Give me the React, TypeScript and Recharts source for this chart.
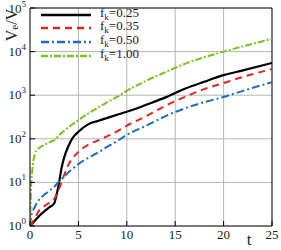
import { LineChart, Line, XAxis, YAxis, CartesianGrid, ReferenceLine } from "recharts";

const SERIF = "'Liberation Serif', 'DejaVu Serif', serif";

// t grid + values (V_e/V), one pair per curve
const tBlack = [0, 0.5, 1, 1.5, 2, 2.5, 2.75, 3, 3.25, 3.5, 4, 4.5, 5, 6, 7, 8, 9, 10, 12, 14, 16, 18, 20, 22, 25];
const vBlack = [1, 1.32, 1.74, 2.19, 2.69, 3.31, 5.25, 9.77, 20.9, 35.5, 70.8, 112, 145, 214, 257, 302, 355, 417, 603, 891, 1413, 2042, 2884, 3715, 5495];

const tRed = [0, 0.3, 0.5, 1, 1.5, 2, 2.5, 3, 3.5, 4, 4.5, 5, 6, 7, 8, 9, 10, 12, 14, 16, 18, 20, 22, 25];
const vRed = [1, 1.26, 1.48, 2.4, 2.88, 3.39, 4.17, 7.08, 14.1, 26.3, 38, 50.1, 72.4, 91.2, 115, 148, 200, 331, 575, 912, 1380, 1905, 2630, 3981];

const tBlue = [0, 0.1, 0.5, 1, 1.5, 2, 2.5, 3, 3.5, 4, 4.5, 5, 6, 7, 8, 9, 10, 12, 14, 16, 18, 20, 22, 25];
const vBlue = [1, 1.58, 2.75, 4.17, 5.25, 6.46, 7.94, 10.5, 13.2, 17.4, 21.4, 26.3, 36.3, 47.9, 66.1, 89.1, 123, 200, 331, 501, 692, 912, 1259, 1995];

const tGreen = [0, 0.1, 0.2, 0.3, 0.5, 0.75, 1, 1.5, 2, 2.5, 3, 3.5, 4, 4.5, 5, 6, 7, 8, 9, 10, 12, 14, 16, 18, 20, 22, 25];
const vGreen = [1, 6.76, 15.8, 26.3, 44.7, 56.2, 63.1, 72.4, 83.2, 93.3, 120, 151, 186, 224, 269, 380, 513, 692, 912, 1259, 2138, 3388, 5248, 7413, 10000, 13183, 19498];

const xTicks = [0, 5, 10, 15, 20, 25];
const xMinorTicks = Array.from({ length: 26 }, (_, i) => i);
const yTicks = [1, 10, 100, 1000, 10000, 100000];
const yMinorTicks = [1, 10, 100, 1000, 10000].flatMap(d => [2, 3, 4, 5, 6, 7, 8, 9].map(m => m * d));

const zip = (t: number[], v: number[]) => t.map((x, i) => ({ t: x, v: v[i] }));

const series = [
  { label: "0.25", data: zip(tBlack, vBlack), color: "#000000", dash: undefined, width: 2.2 },
  { label: "0.35", data: zip(tRed, vRed), color: "#e42222", dash: "7 5", width: 2 },
  { label: "0.50", data: zip(tBlue, vBlue), color: "#1c6dc2", dash: "8 3 2 3", width: 2 },
  { label: "1.00", data: zip(tGreen, vGreen), color: "#79c21e", dash: "7 2 2 2", width: 2 },
];

type TickProps = { x?: number; y?: number; payload?: { value: number } };

const YTick = ({ x, y, payload }: TickProps) => {
  const exp = Math.round(Math.log10(payload?.value ?? 1));
  return (
    <text x={x} y={y} textAnchor="end" fontFamily={SERIF} fontSize={13} fill="#222">
      <tspan dy={4}>10</tspan>
      <tspan dy={-6} fontSize={9}>{exp}</tspan>
    </text>
  );
};

const XTick = ({ x, y, payload }: TickProps) => (
  <text x={x} y={y} dy={10} textAnchor="middle" fontFamily={SERIF} fontSize={13} fill="#222">
    {payload?.value}
  </text>
);

export default function App() {
  return (
    <div style={{ position: "absolute", left: 0, top: 0, width: 281, height: 250, background: "#fff", fontFamily: SERIF }}>
      <LineChart width={281} height={250} margin={{ top: 8, right: 9, left: 0, bottom: 0 }}>
        <CartesianGrid xAxisId="minor" yAxisId="minor" stroke="#e8e8e8" />
        <XAxis
          dataKey="t"
          type="number"
          domain={[0, 25]}
          ticks={xTicks}
          height={24}
          tickSize={-5}
          tickMargin={8}
          tick={<XTick />}
          axisLine={{ stroke: "#000" }}
          tickLine={{ stroke: "#000" }}
          allowDataOverflow
        />
        <XAxis xAxisId="minor" type="number" domain={[0, 25]} ticks={xMinorTicks} height={0} tick={false} tickSize={-3} axisLine={false} tickLine={{ stroke: "#333" }} allowDataOverflow />
        <YAxis
          scale="log"
          type="number"
          domain={[1, 100000]}
          ticks={yTicks}
          width={30}
          tickSize={-5}
          tickMargin={9}
          tick={<YTick />}
          axisLine={{ stroke: "#000" }}
          tickLine={{ stroke: "#000" }}
          allowDataOverflow
        />
        <YAxis yAxisId="minor" scale="log" type="number" domain={[1, 100000]} ticks={yMinorTicks} width={0} tick={false} tickSize={-3} axisLine={false} tickLine={{ stroke: "#333" }} allowDataOverflow />
        {[5, 10, 15, 20].map(v => (
          <ReferenceLine key={"x" + v} x={v} stroke="#b4b4b4" />
        ))}
        {[10, 100, 1000, 10000].map(v => (
          <ReferenceLine key={"y" + v} y={v} stroke="#b4b4b4" />
        ))}
        <ReferenceLine x={25} stroke="#000" />
        <ReferenceLine y={100000} stroke="#000" />
        {series.map(s => (
          <Line
            key={s.label}
            data={s.data}
            dataKey="v"
            type="monotone"
            stroke={s.color}
            strokeWidth={s.width}
            strokeDasharray={s.dash}
            dot={false}
            isAnimationActive={false}
          />
        ))}
      </LineChart>
      <svg width={281} height={250} style={{ position: "absolute", left: 0, top: 0, pointerEvents: "none" }}>
        <text transform="rotate(-90, 11, 25)" x={11} y={25} textAnchor="middle" dominantBaseline="central" fontFamily={SERIF} fontSize={16} fill="#222">
          V<tspan dy={3} fontSize={11}>e</tspan><tspan dy={-3}>/V</tspan>
        </text>
        <text x={249} y={245} textAnchor="middle" fontFamily={SERIF} fontSize={17} fill="#222">t</text>
      </svg>
      <div style={{ position: "absolute", left: 41, top: 8, fontFamily: SERIF, fontSize: 13, color: "#222" }}>
        {series.map(s => (
          <div key={s.label} style={{ display: "flex", alignItems: "center", height: 13.6 }}>
            <svg width={50} height={4} style={{ marginRight: 9 }}>
              <line x1={0} y1={2} x2={50} y2={2} stroke={s.color} strokeWidth={s.width + 0.4} strokeDasharray={s.dash} />
            </svg>
            <span style={{ lineHeight: "13px" }}>
              f<sub style={{ fontSize: 9, verticalAlign: "-3px" }}>k</sub>={s.label}
            </span>
          </div>
        ))}
      </div>
    </div>
  );
}
